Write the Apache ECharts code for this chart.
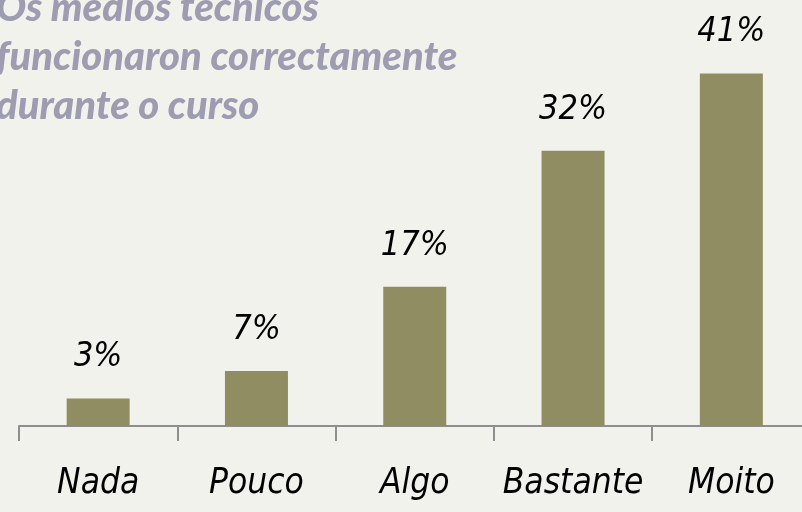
<!DOCTYPE html>
<html>
<head>
<meta charset="utf-8">
<script src="https://cdn.jsdelivr.net/npm/echarts@6/dist/echarts.min.js"></script>
<style>
html,body{margin:0;padding:0;background:#f2f2ed;}
#main{width:802px;height:512px;}
</style>
</head>
<body>
<div id="main"></div>
<script>
const categories = ['Nada', 'Pouco', 'Algo', 'Bastante', 'Moito'];
const values = [3.2, 6.4, 16.2, 32.0, 41.0];
const valueLabels = ['3%', '7%', '17%', '32%', '41%'];
const titleText = 'Os medios técnicos\nfuncionaron correctamente\ndurante o curso';

const labelFont = '"DejaVu Sans Condensed", "Liberation Sans", sans-serif';

const chart = echarts.init(document.getElementById('main'), null, {renderer: 'canvas'});
chart.setOption({
  backgroundColor: '#f2f2ed',
  animation: false,
  title: {
    text: titleText,
    left: -4,
    top: -16,
    padding: 0,
    textStyle: {
      color: '#9d9cb1',
      fontFamily: 'Lato',
      fontStyle: 'italic',
      fontWeight: 900,
      fontSize: 40,
      lineHeight: 49
    }
  },
  grid: {left: 19, width: 791.5, top: 39, bottom: 86, containLabel: false, outerBoundsMode: 'none'},
  xAxis: {
    type: 'category',
    data: categories,
    axisLine: {show: true, lineStyle: {color: '#8e8e8e', width: 2}},
    axisTick: {show: true, length: 15, lineStyle: {color: '#8e8e8e', width: 2}},
    axisLabel: {
      interval: 0,
      color: '#000',
      fontFamily: labelFont,
      fontStyle: 'italic',
      fontSize: 35,
      margin: 40
    }
  },
  yAxis: {type: 'value', min: 0, max: 45, show: false, splitLine: {show: false}},
  series: [{
    type: 'bar',
    data: values,
    barWidth: 63,
    itemStyle: {color: '#908d62'},
    label: {
      show: true,
      position: 'top',
      distance: 24,
      color: '#000',
      fontFamily: labelFont,
      fontStyle: 'italic',
      fontSize: 34,
      formatter: function (p) { return valueLabels[p.dataIndex]; }
    }
  }]
});
</script>
</body>
</html>
